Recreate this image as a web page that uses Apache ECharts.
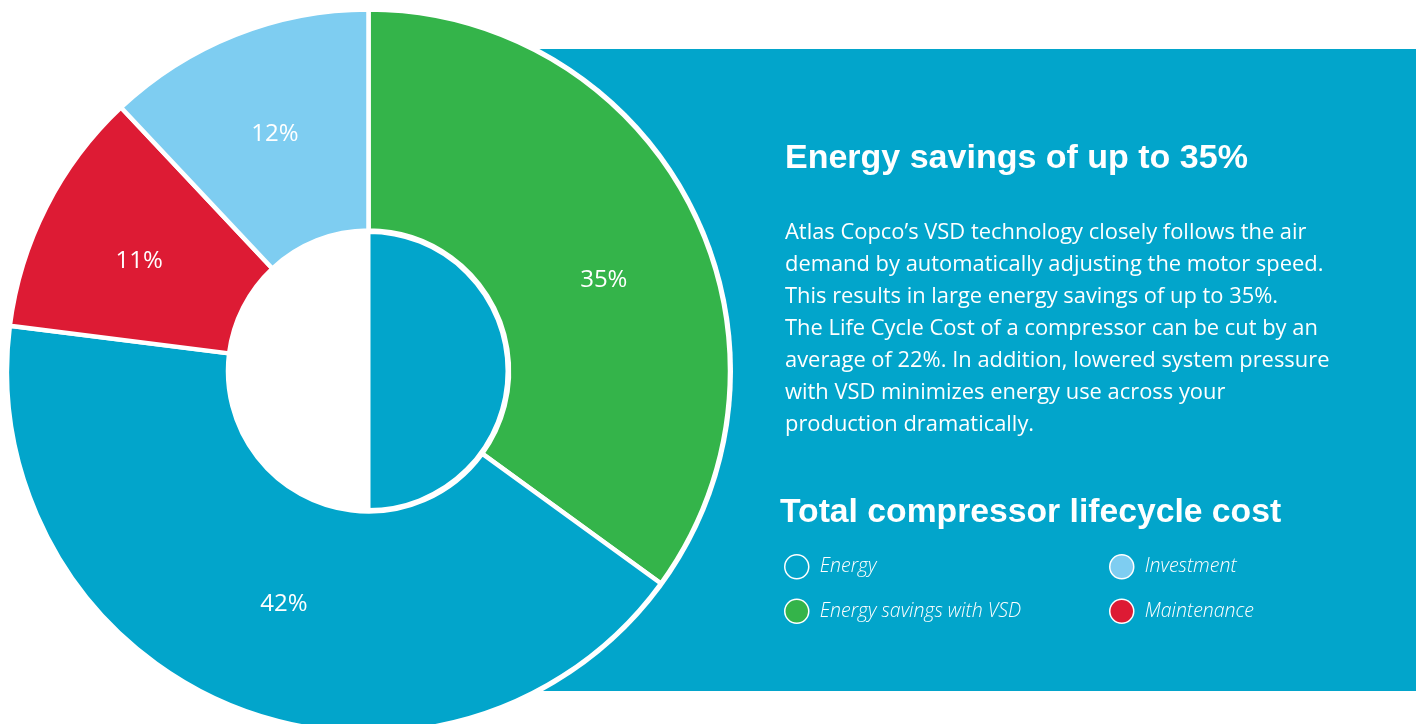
<!DOCTYPE html>
<html>
<head>
<meta charset="utf-8">
<script src="https://cdn.jsdelivr.net/npm/echarts@6/dist/echarts.min.js"></script>
<style>
html,body{margin:0;padding:0;background:#fff;}
#chart{width:1418px;height:724px;}
</style>
</head>
<body>
<div id="chart"></div>
<script>
// ---- data ----
const categories = ['Energy savings with VSD', 'Energy', 'Maintenance', 'Investment'];
const values = [35, 42, 11, 12];
const innerCategories = ['Energy (inner)', 'Rest'];
const innerValues = [50, 50];
const legendColumn1 = ['Energy', 'Energy savings with VSD'];
const legendColumn2 = ['Investment', 'Maintenance'];
const titleText = 'Energy savings of up to 35%';
const bodyLines = [
  'Atlas Copco\u2019s VSD technology closely follows the air',
  'demand by automatically adjusting the motor speed.',
  'This results in large energy savings of up to 35%.',
  'The Life Cycle Cost of a compressor can be cut by an',
  'average of 22%. In addition, lowered system pressure',
  'with VSD minimizes energy use across your',
  'production dramatically.'
];
const subTitleText = 'Total compressor lifecycle cost';

// ---- styles ----
const BLUE = '#02a5cb';
const colorMap = {
  'Energy savings with VSD': '#34b44a',
  'Energy': BLUE,
  'Maintenance': '#dd1b34',
  'Investment': '#7ecdf1'
};
const labelOffsets = {
  'Energy savings with VSD': [9, 24],
  'Energy': [9, -3],
  'Maintenance': [-3, 5],
  'Investment': [0, -1]
};
const FONT = '"Open Sans", "Noto Sans", sans-serif';
const HFONT = '"Liberation Sans", Arial, sans-serif';
const CX = 368.5, CY = 371;

const chart = echarts.init(document.getElementById('chart'), null, {renderer: 'canvas'});

const mainData = categories.map((c, i) => ({
  name: c, value: values[i],
  itemStyle: {color: colorMap[c]},
  label: {offset: labelOffsets[c]}
}));

const legendBase = {
  orient: 'vertical',
  top: 554,
  padding: 0,
  itemWidth: 24,
  itemHeight: 24,
  itemGap: 19,
  icon: 'circle',
  selectedMode: false,
  itemStyle: {borderColor: '#fff', borderWidth: 1.5},
  textStyle: {color: '#fff', fontSize: 19.5, fontStyle: 'italic', fontWeight: 300, fontFamily: FONT, padding: [0, 0, 0, 6]}
};

function textEl(str, x, y, font, size, weight) {
  return {
    type: 'text', z: 10, silent: true, x: x, y: y,
    style: {text: str, fill: '#fff', fontSize: size, fontWeight: weight, fontFamily: font,
      align: 'left', verticalAlign: 'middle', textAlign: 'left', textVerticalAlign: 'middle'}
  };
}

const graphics = [
  {type: 'rect', z: 0, silent: true, shape: {x: 539, y: 49, width: 877, height: 642}, style: {fill: BLUE}},
  textEl(titleText, 785, 158.5, HFONT, 34, 'bold'),
  textEl(subTitleText, 780, 512.5, HFONT, 33.7, 'bold')
].concat(bodyLines.map((ln, i) => textEl(ln, 785, 233 + i * 32, FONT, 21.9, 'normal')));

chart.setOption({
  backgroundColor: '#fff',
  animation: false,
  legend: [
    Object.assign({}, legendBase, {left: 784, data: legendColumn1}),
    Object.assign({}, legendBase, {left: 1109, data: legendColumn2})
  ],
  graphic: graphics,
  series: [
    {
      type: 'pie', name: 'ring', z: 1, silent: true,
      center: [CX, CY], radius: [0, 364.5],
      label: {show: false}, labelLine: {show: false},
      data: [{name: 'ring', value: 1, itemStyle: {color: '#fff'}}],
      emphasis: {disabled: true}
    },
    {
      type: 'pie', name: 'Lifecycle cost', z: 2,
      center: [CX, CY], radius: [140.5, 361.5],
      startAngle: 90, clockwise: true,
      avoidLabelOverlap: false,
      itemStyle: {borderColor: '#fff', borderWidth: 4.5},
      label: {show: true, position: 'inside', formatter: '{c}%', color: '#fff', fontSize: 24, fontWeight: 'normal', fontFamily: FONT},
      labelLine: {show: false},
      emphasis: {disabled: true},
      data: mainData
    },
    {
      type: 'pie', name: 'inner', z: 3, silent: true,
      center: [CX, CY], radius: [0, 139],
      startAngle: 90, clockwise: true,
      label: {show: false}, labelLine: {show: false},
      emphasis: {disabled: true},
      data: innerCategories.map((c, i) => ({
        name: c, value: innerValues[i],
        itemStyle: i === 0 ? {color: BLUE, borderColor: '#fff', borderWidth: 4} : {color: '#fff', borderWidth: 0}
      }))
    }
  ]
});
</script>
</body>
</html>
